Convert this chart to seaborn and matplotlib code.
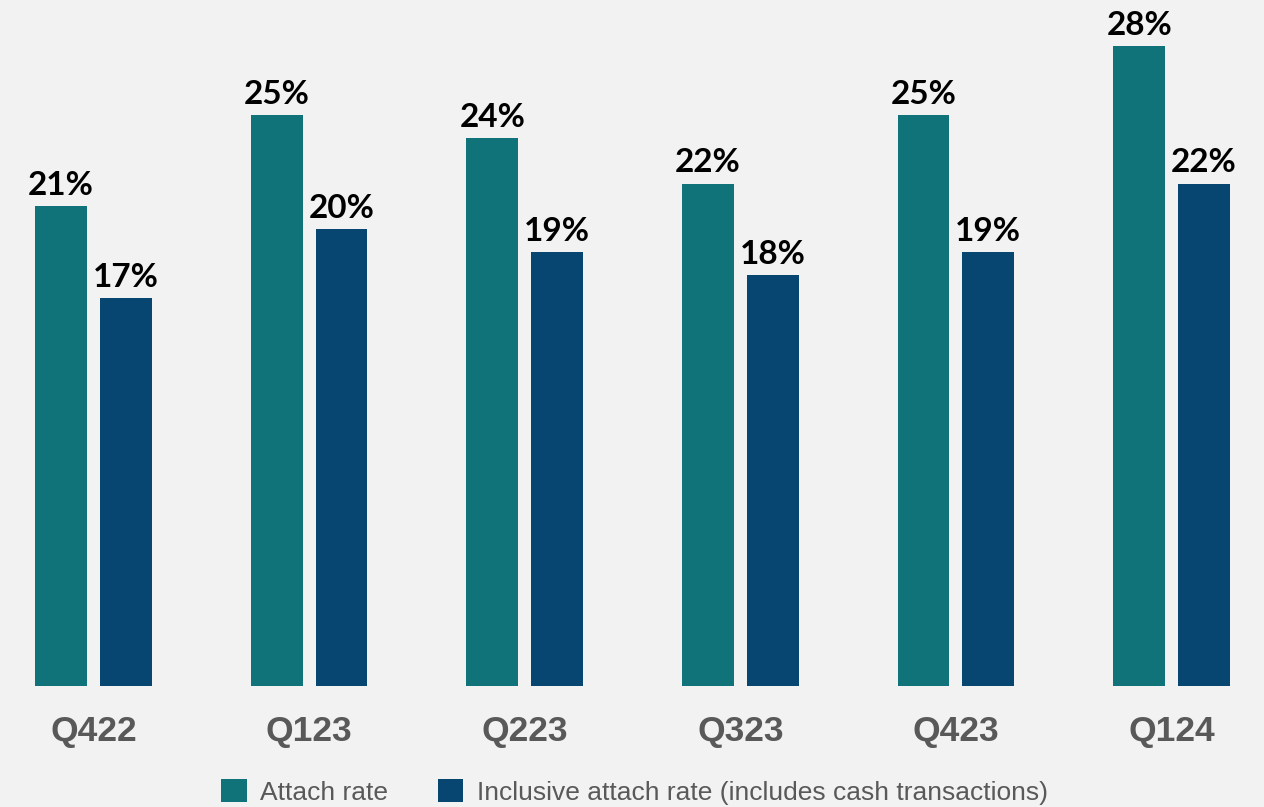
import matplotlib
matplotlib.use("Agg")
import matplotlib.pyplot as plt
import seaborn as sns
import pandas as pd

quarters = ["Q422", "Q123", "Q223", "Q323", "Q423", "Q124"]
attach_rate = [21, 25, 24, 22, 25, 28]
inclusive_rate = [17, 20, 19, 18, 19, 22]
series_names = ["Attach rate", "Inclusive attach rate (includes cash transactions)"]
colors = ["#10737a", "#084672"]

sns.set_theme(style="white")
plt.rcParams['font.family'] = ['Liberation Sans', 'DejaVu Sans']

df = pd.DataFrame({
    "quarter": quarters * 2,
    "value": attach_rate + inclusive_rate,
    "series": [series_names[0]] * len(quarters) + [series_names[1]] * len(quarters),
})

W, H = 1264, 807
fig = plt.figure(figsize=(W / 100, H / 100), dpi=100)
bg = "#f2f2f2"
fig.patch.set_facecolor(bg)
ax = fig.add_axes([0, 121 / H, 1, 686 / H])
ax.set_facecolor(bg)

sns.barplot(data=df, x="quarter", y="value", hue="series", order=quarters,
            hue_order=series_names, palette=colors, width=0.6, gap=0.2,
            saturation=1, linewidth=0, edgecolor="none", ax=ax, legend=False)

scale = 215.6
ax.set_xlim(-93.5 / scale, (W - 93.5) / scale)
ax.set_ylim(0, 686 / 22.84)

for container in ax.containers:
    for bar in container:
        h = bar.get_height()
        ax.annotate(f"{h:.0f}%", (bar.get_x() + bar.get_width() / 2, h),
                    xytext=(0, 8), textcoords="offset points",
                    ha="center", va="baseline", fontsize=24, fontweight="bold",
                    color="black", family=["Lato", "DejaVu Sans"])

for s in ax.spines.values():
    s.set_visible(False)
ax.set_yticks([])
ax.set_xlabel("")
ax.set_ylabel("")
ax.tick_params(axis="x", length=0, pad=21, labelsize=25.5, labelcolor="#595959")
for lab in ax.get_xticklabels():
    lab.set_fontweight("bold")

from matplotlib.patches import Patch
handles = [Patch(facecolor=c, edgecolor="none") for c in colors]
fig.legend(handles, series_names, loc="center", bbox_to_anchor=(0.502, 0.0186),
           ncol=2, frameon=False, fontsize=19, labelcolor="#595959",
           handlelength=0.98, handleheight=0.98, handletextpad=0.5,
           columnspacing=1.86, borderpad=0, borderaxespad=0)

fig.savefig("out.png", dpi=100, facecolor=bg)
